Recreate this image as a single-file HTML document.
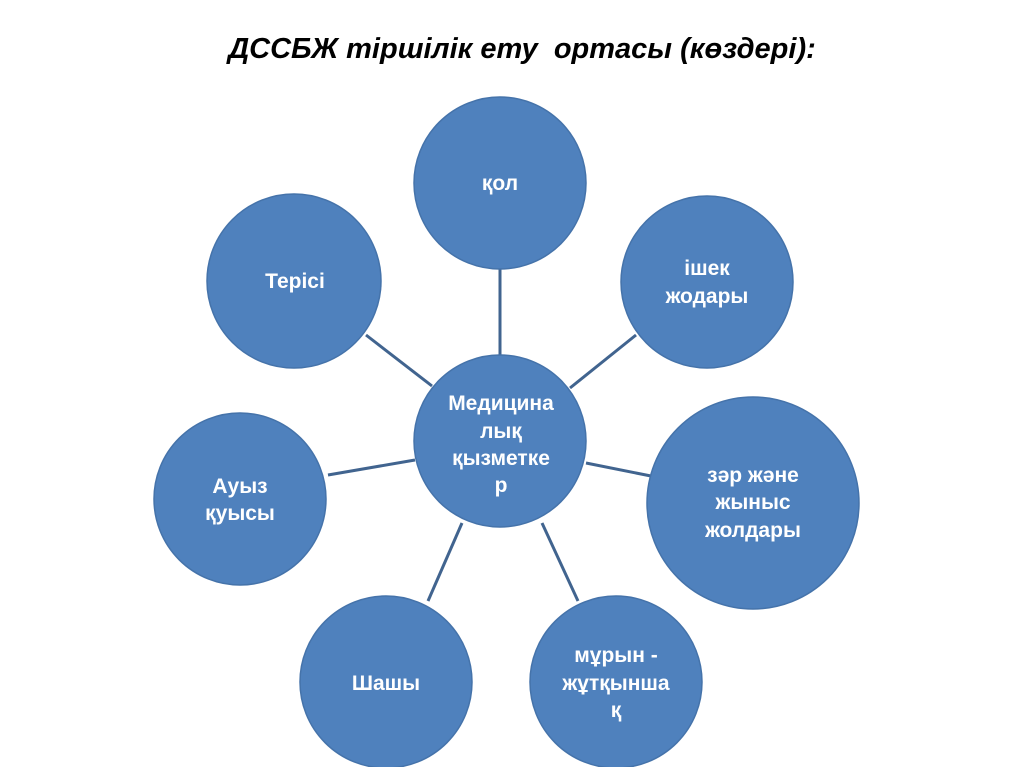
<!DOCTYPE html>
<html><head><meta charset="utf-8"><style>
html,body{margin:0;padding:0;background:#fff;width:1024px;height:767px;overflow:hidden}
</style></head><body>
<svg width="1024" height="767" viewBox="0 0 1024 767" xmlns="http://www.w3.org/2000/svg" font-family="Liberation Sans, DejaVu Sans, sans-serif">
<text x="522" y="58" text-anchor="middle" font-size="29" font-weight="bold" font-style="italic" fill="#000" xml:space="preserve">ДССБЖ тіршілік ету  ортасы (көздері):</text>
<g stroke="#41648f" stroke-width="3">
<line x1="500" y1="268" x2="500" y2="356"/>
<line x1="366" y1="335" x2="432" y2="386"/>
<line x1="636" y1="335" x2="570" y2="388"/>
<line x1="586" y1="463" x2="651" y2="476"/>
<line x1="328" y1="475" x2="415" y2="460"/>
<line x1="428" y1="601" x2="462" y2="523"/>
<line x1="578" y1="601" x2="542" y2="523"/>
</g>
<g fill="#4f81bd" stroke="#4573aa" stroke-width="1.5">
<circle cx="500" cy="441" r="86"/>
<circle cx="500" cy="183" r="86"/>
<circle cx="294" cy="281" r="87"/>
<circle cx="707" cy="282" r="86"/>
<circle cx="753" cy="503" r="106"/>
<circle cx="240" cy="499" r="86"/>
<circle cx="386" cy="682" r="86"/>
<circle cx="616" cy="682" r="86"/>
</g>
<g fill="#fff" font-size="21" font-weight="bold" text-anchor="middle">
<text x="501" y="410">Медицина</text>
<text x="501" y="438">лық</text>
<text x="501" y="465">қызметке</text>
<text x="501" y="492">р</text>
<text x="500" y="190">қол</text>
<text x="295" y="288">Терісі</text>
<text x="707" y="275">ішек</text>
<text x="707" y="303">жодары</text>
<text x="753" y="482">зәр және</text>
<text x="753" y="509">жыныс</text>
<text x="753" y="537">жолдары</text>
<text x="240" y="493">Ауыз</text>
<text x="240" y="520">қуысы</text>
<text x="386" y="690">Шашы</text>
<text x="616" y="662">мұрын -</text>
<text x="616" y="690">жұтқынша</text>
<text x="616" y="717">қ</text>
</g>
</svg>
</body></html>
